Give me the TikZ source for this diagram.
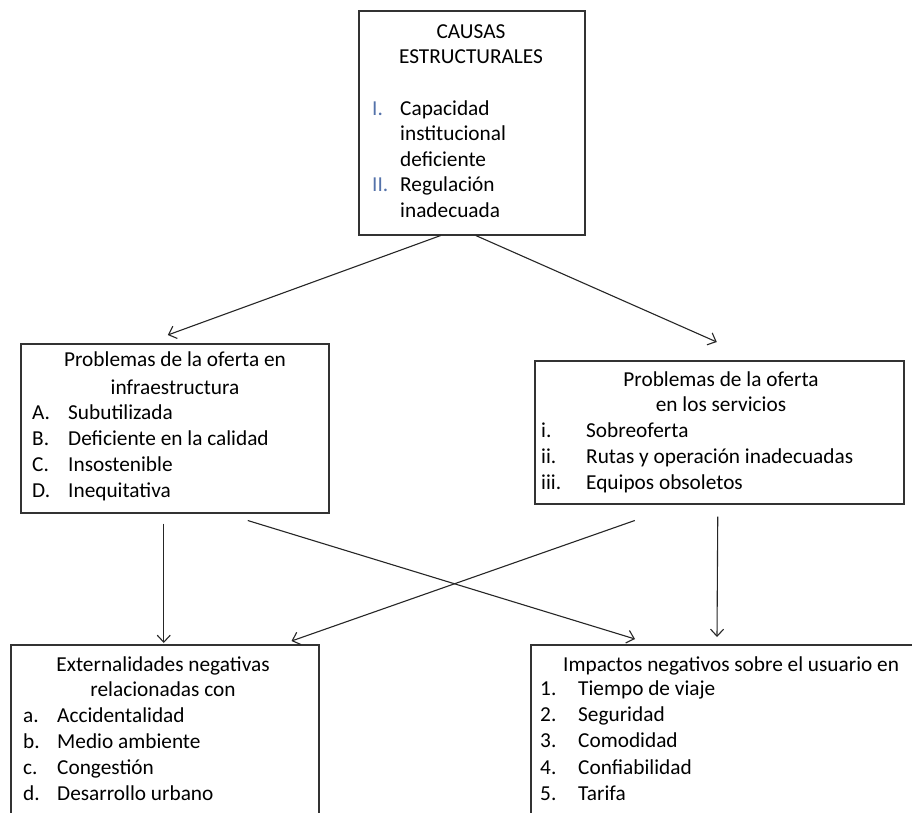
\documentclass[tikz,border=0pt]{standalone}
\usepackage{fontspec}
\setmainfont{Carlito}
\usetikzlibrary{arrows.meta, positioning, calc}

\definecolor{numblue}{RGB}{84,114,170}

\begin{document}
\begin{tikzpicture}[
    x=1pt, y=1pt,
    box/.style={rectangle, draw=black!80, line width=1.5pt, anchor=north west, inner sep=0pt},
    head/.style={anchor=base, inner sep=0pt, font=\fontsize{21.3}{26}\selectfont},
    itemtxt/.style={anchor=base west, inner sep=0pt, font=\fontsize{21.3}{26}\selectfont},
    numtag/.style={itemtxt, text=numblue},
    arrow/.style={line width=1.1pt, draw=black!85, -{Straight Barb[length=7pt,width=13pt]}},
]

    \useasboundingbox (0,0) rectangle (912,-812);
    \fill [white] (0,0) rectangle (912,-812);
    \clip (0,0) rectangle (912,-812);

    % boxes
    \node (causas) [box, minimum width=226pt, minimum height=224pt] at (358,-10) {};
    \node (infra) [box, minimum width=308pt, minimum height=169pt] at (20,-343) {};
    \node (serv) [box, minimum width=369pt, minimum height=143pt] at (534,-360) {};
    \node (ext) [box, minimum width=308pt, minimum height=200pt] at (10,-644) {};
    \node (imp) [box, minimum width=420pt, minimum height=200pt] at (530,-644) {};

    % causas estructurales
    \node (causasT1) [head] at (471,-38.5) {CAUSAS};
    \node (causasT2) [head] at (471,-63.5) {ESTRUCTURALES};
    \node (causasN1) [numtag] at (372,-115.5) {I.};
    \node (causasA) [itemtxt] at (400,-115.5) {Capacidad};
    \node (causasB) [itemtxt] at (400,-140.5) {institucional};
    \node (causasC) [itemtxt] at (400,-166.5) {deficiente};
    \node (causasN2) [numtag] at (372,-191.5) {II.};
    \node (causasD) [itemtxt] at (400,-191.5) {Regulación};
    \node (causasE) [itemtxt] at (400,-217.5) {inadecuada};

    % oferta en infraestructura
    \node (infraT1) [head] at (175,-366.5) {Problemas de la oferta en};
    \node (infraT2) [head] at (175,-394.5) {infraestructura};
    \foreach \lab/\txt [count=\i] in {A./Subutilizada, B./Deficiente en la calidad, C./Insostenible, D./Inequitativa} {
        \node (infraL\i) [itemtxt] at (32,{-419.5-26*(\i-1)}) {\lab};
        \node (infraI\i) [itemtxt] at (68,{-419.5-26*(\i-1)}) {\txt};
    }

    % oferta en servicios
    \node (servT1) [head] at (721,-386.5) {Problemas de la oferta};
    \node (servT2) [head] at (721,-411.5) {en los servicios};
    \foreach \lab/\txt [count=\i] in {i./Sobreoferta, ii./Rutas y operación inadecuadas, iii./Equipos obsoletos} {
        \node (servL\i) [itemtxt] at (541,{-437.5-26*(\i-1)}) {\lab};
        \node (servI\i) [itemtxt] at (586,{-437.5-26*(\i-1)}) {\txt};
    }

    % externalidades
    \node (extT1) [head] at (163,-671.5) {Externalidades negativas};
    \node (extT2) [head] at (163,-696.5) {relacionadas con};
    \foreach \lab/\txt [count=\i] in {a./Accidentalidad, b./Medio ambiente, c./Congestión, d./Desarrollo urbano} {
        \node (extL\i) [itemtxt] at (23,{-722.5-26*(\i-1)}) {\lab};
        \node (extI\i) [itemtxt] at (57,{-722.5-26*(\i-1)}) {\txt};
    }

    % impactos sobre el usuario
    \node (impT1) [itemtxt] at (563,-671.5) {Impactos negativos sobre el usuario en};
    \foreach \lab/\txt [count=\i] in {1./Tiempo de viaje, 2./Seguridad, 3./Comodidad, 4./Confiabilidad, 5./Tarifa} {
        \node (impL\i) [itemtxt] at (540,{-695.5-26.2*(\i-1)}) {\lab};
        \node (impI\i) [itemtxt] at (578,{-695.5-26.2*(\i-1)}) {\txt};
    }

    % arrows
    \draw [arrow] ([xshift=-31pt]causas.south) -- ([xshift=-7pt,yshift=8pt]infra.north);
    \draw [arrow] ([xshift=4pt]causas.south) -- ([xshift=-2.5pt,yshift=18pt]serv.north);
    \draw [arrow] ([xshift=-11pt,yshift=-10pt]infra.south) -- ([xshift=-1pt,yshift=1pt]ext.north);
    \draw [arrow] ([xshift=73pt,yshift=-7pt]infra.south) -- ([xshift=105pt,yshift=5pt]imp.north west);
    \draw [arrow] ([xshift=-84.5pt,yshift=-16pt]serv.south) -- ([xshift=-28pt,yshift=3pt]ext.north east);
    \draw [arrow] ([xshift=-1.5pt,yshift=-12pt]serv.south) -- ([xshift=187pt,yshift=7pt]imp.north west);

\end{tikzpicture}
\end{document}
